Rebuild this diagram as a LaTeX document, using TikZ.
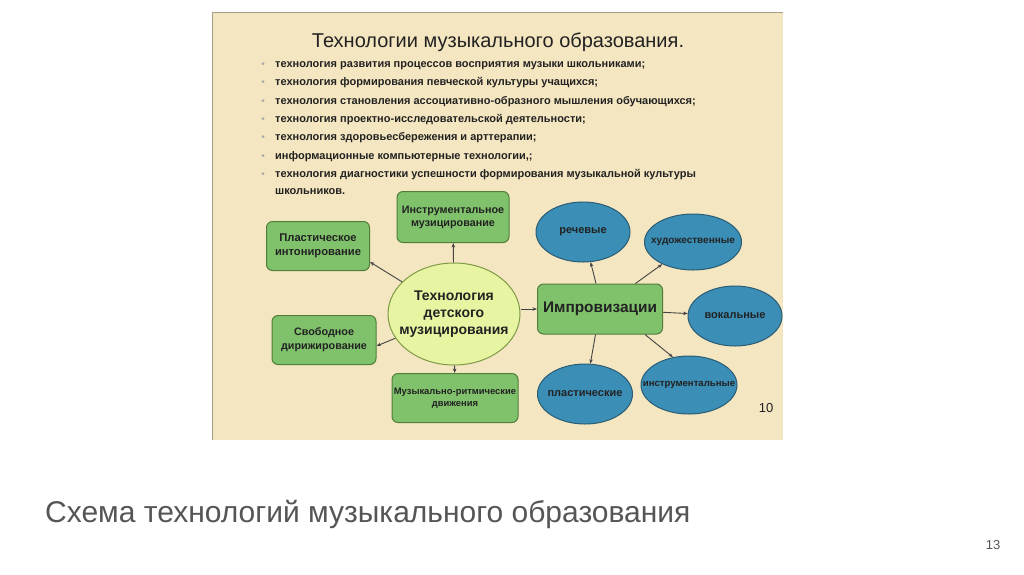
\documentclass[tikz,border=0pt]{standalone}
\usepackage{fontspec}
\setmainfont{Liberation Sans}
\usetikzlibrary{shapes.geometric,arrows.meta}
\definecolor{slidebg}{HTML}{F4E6C0}
\definecolor{slideframe}{HTML}{A89C88}
\definecolor{gfill}{HTML}{80C26C}
\definecolor{gdraw}{HTML}{4F7E3A}
\definecolor{bfill}{HTML}{3B8EB6}
\definecolor{bdraw}{HTML}{2A5C74}
\definecolor{cfill}{HTML}{E7F5A2}
\definecolor{cdraw}{HTML}{7E9A46}
\definecolor{txt}{HTML}{222222}
\definecolor{captxt}{HTML}{555555}
\tikzset{
  gbox/.style={draw=gdraw, fill=gfill, line width=1pt, rounded corners=6pt, align=center,
    font=\bfseries, text=txt, inner sep=1pt},
  bell/.style={ellipse, draw=bdraw, fill=bfill, line width=1pt, inner sep=0pt},
  conn/.style={draw=txt!85, line width=0.9pt, -{Stealth[length=4.5pt,width=3.5pt]}},
  bul/.style={anchor=base west, font=\bfseries\fontsize{11}{13}\selectfont, text=txt, inner sep=0pt},
  dot/.style={circle, fill=gray!70, inner sep=0pt, minimum size=3pt}
}
\newcommand{\bsz}[1]{\bfseries\fontsize{#1}{#1}\selectfont}
\begin{document}
\begin{tikzpicture}[x=1pt,y=-1pt]
\useasboundingbox[fill=white] (0,0) rectangle (1024,574);
% slide
\fill[slidebg] (212,12) rectangle (783,440);
\draw[slideframe, line width=1pt] (212,440) -- (212,12) -- (783,12);
\node (title) at (498,42) {\fontsize{20}{24}\selectfont\color{txt}Технологии музыкального образования.};
% bullets
\foreach \yy/\tt [count=\i] in {67/{технология развития процессов восприятия музыки школьниками;},
  85/{технология формирования певческой культуры учащихся;},
  104/{технология становления ассоциативно-образного мышления обучающихся;},
  122/{технология проектно-исследовательской деятельности;},
  140/{технология здоровьесбережения и  арттерапии;},
  159/{информационные компьютерные технологии,;},
  177/{технология диагностики успешности формирования музыкальной культуры}}{
  \node[dot] (d\i) at (263,\yy-3.5) {};
  \node[bul] (b\i) at (275,\yy) {\tt};
}
\node[bul] (b8) at (275,194) {школьников.};
% central
\node[ellipse, draw=cdraw, fill=cfill, line width=1pt, minimum width=132pt, minimum height=102pt,
  inner sep=0pt,
  label={[align=center, font=\bfseries\fontsize{14}{17}\selectfont, text=txt, inner sep=0pt]center:Технология\\детского\\музицирования}] (c) at (454,314) {};
\node[gbox, minimum width=112pt, minimum height=51pt, font=\bfseries\fontsize{10.8}{13}\selectfont] (instr) at (453,217) {Инструментальное\\музицирование};
\node[gbox, minimum width=103pt, minimum height=49pt, font=\bfseries\fontsize{11.2}{14}\selectfont] (plast) at (318,246) {Пластическое\\интонирование};
\node[gbox, minimum width=104pt, minimum height=49pt, font=\bfseries\fontsize{10.8}{14}\selectfont] (svob) at (324,340) {Свободное\\дирижирование};
\node[gbox, minimum width=126pt, minimum height=49pt, font=\bfseries\fontsize{9.4}{12}\selectfont] (mr) at (455,398) {Музыкально-ритмические\\движения};
\node[gbox, minimum width=125pt, minimum height=50pt, font=\bfseries\fontsize{15.4}{17}\selectfont] (imp) at (600,309) {Импровизации};
% blue ellipses
\node[bell, minimum width=94pt, minimum height=60pt, label={[font=\bsz{11}, text=txt]center:речевые}] (rech) at (583,232) {};
\node[bell, minimum width=97pt, minimum height=56pt, label={[font=\bsz{10}, text=txt]center:художественные}] (hud) at (693,242) {};
\node[bell, minimum width=94pt, minimum height=60pt, label={[font=\bsz{11}, text=txt]center:вокальные}] (vok) at (735,316) {};
\node[bell, minimum width=96pt, minimum height=58pt, label={[font=\bsz{9.6}, text=txt]center:инструментальные}] (instr2) at (689,385) {};
\node[bell, minimum width=95pt, minimum height=60pt, label={[font=\bsz{11}, text=txt]center:пластические}] (plast2) at (585,394) {};
\node[font=\fontsize{13}{15}\selectfont, text=txt] (ten) at (766,408) {10};
% connectors
\draw[conn] (c) -- (instr);
\draw[conn] (c) -- ([yshift=-16pt]plast.east);
\draw[conn] (c) -- ([yshift=-6pt]svob.east);
\draw[conn] (c) -- (mr);
\draw[conn] (c.east |- imp.west) -- (imp.west);
\draw[conn] ([xshift=-4pt]imp.north) -- (rech);
\draw[conn] (imp) -- (hud);
\draw[conn] (imp) -- (vok);
\draw[conn] ([xshift=45pt]imp.south) -- (instr2.120);
\draw[conn] (imp) -- (plast2);
% caption
\node[anchor=base west, font=\fontsize{30}{34}\selectfont, text=captxt, inner sep=0pt] (cap) at (45,522) {Схема технологий музыкального образования};
\node[font=\fontsize{13}{15}\selectfont, text=captxt] (pg) at (993,545) {13};
\end{tikzpicture}
\end{document}
